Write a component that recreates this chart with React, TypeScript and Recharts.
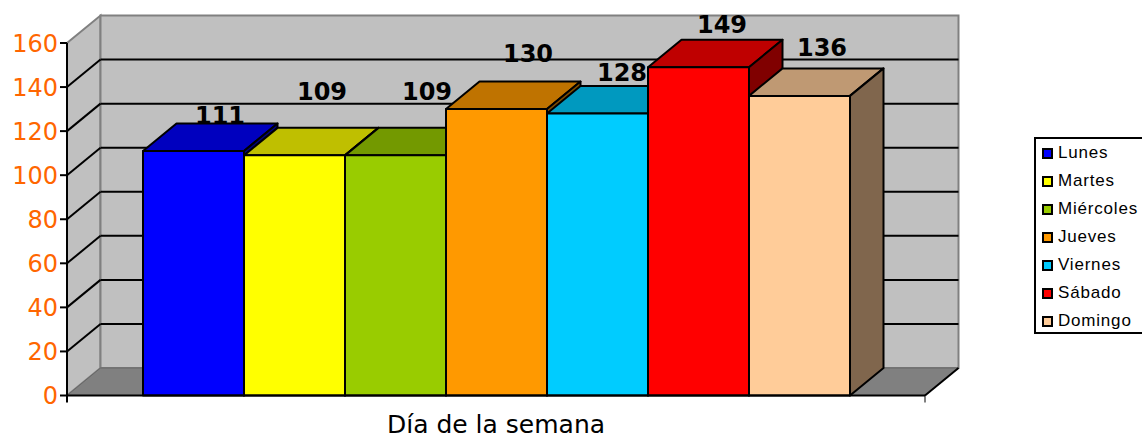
import { Bar, BarChart, Legend, ReferenceArea, XAxis, YAxis } from 'recharts';

const category = 'Día de la semana';
const days = ['Lunes', 'Martes', 'Miércoles', 'Jueves', 'Viernes', 'Sábado', 'Domingo'];
const visits = [111, 109, 109, 130, 128, 149, 136];
const yTicks = [0, 20, 40, 60, 80, 100, 120, 140, 160];
const gridTicks = [20, 40, 60, 80, 100, 120, 140];

const colors = ['#0000ff', '#ffff00', '#99cc00', '#ff9900', '#00ccff', '#ff0000', '#ffcc99'];
// where each value label sits relative to the top of its bar
const labelShift = [
  [27, -27],
  [28, -55],
  [32, -55],
  [32, -47],
  [25, -33],
  [24, -34],
  [23, -40],
];

const DX = 33.5;
const DY = 27.5;
const FONT = '"DejaVu Sans", Verdana, sans-serif';

const row: any = { name: category };
days.forEach((d, i) => {
  row[d] = visits[i];
});
const data = [row];

function shade(hex: string, f: number) {
  const n = parseInt(hex.slice(1), 16);
  const c = [(n >> 16) & 255, (n >> 8) & 255, n & 255].map((v) => Math.round(v * f));
  return `rgb(${c.join(',')})`;
}

function Walls({ x, y, width, height }: any) {
  const bottom = y + height;
  const right = x + width;
  return (
    <g>
      <polygon
        points={`${x},${y} ${x + DX},${y - DY} ${x + DX},${bottom - DY} ${x},${bottom}`}
        fill="#c0c0c0"
        stroke="#808080"
        strokeWidth={2}
      />
      <rect x={x + DX} y={y - DY} width={width} height={height} fill="#c0c0c0" stroke="#808080" strokeWidth={2} />
      <polygon
        points={`${x},${bottom} ${x + DX},${bottom - DY} ${right + DX},${bottom - DY} ${right},${bottom}`}
        fill="#808080"
        stroke="#666666"
        strokeWidth={1}
      />
      <line x1={right} y1={bottom} x2={right + DX} y2={bottom - DY} stroke="#000" strokeWidth={2} />
      <line x1={x} y1={bottom} x2={x} y2={bottom + 7} stroke="#000" strokeWidth={2} />
      <line x1={right} y1={bottom} x2={right} y2={bottom + 7} stroke="#000" strokeWidth={1} />
    </g>
  );
}

// top edge of the area is the tick's y from the axis scale
function GridLine({ x, y, width }: any) {
  return (
    <g fill="none" stroke="#000" strokeWidth={2}>
      <line x1={x} y1={y} x2={x + DX} y2={y - DY} />
      <line x1={x + DX} y1={y - DY} x2={x + width + DX} y2={y - DY} />
    </g>
  );
}

function Box({ x, y, width, height, fill, index }: any) {
  const x2 = x + width + 1;
  const bottom = y + height;
  const [lx, ly] = labelShift[index];
  return (
    <g stroke="#000" strokeWidth={2} strokeLinejoin="round">
      <text
        x={x + width / 2 + lx}
        y={y + ly}
        textAnchor="middle"
        fontFamily={FONT}
        fontWeight="bold"
        fontSize={24}
        fill="#000"
        stroke="none"
      >
        {visits[index]}
      </text>
      <polygon points={`${x},${y} ${x + DX},${y - DY} ${x2 + DX},${y - DY} ${x2},${y}`} fill={shade(fill, 0.75)} />
      <polygon points={`${x2},${y} ${x2 + DX},${y - DY} ${x2 + DX},${bottom - DY} ${x2},${bottom}`} fill={shade(fill, 0.5)} />
      <rect x={x} y={y} width={x2 - x} height={height} fill={fill} />
    </g>
  );
}

function DayLegend({ payload }: any) {
  return (
    <div
      style={{
        width: 118,
        height: 197,
        boxSizing: 'border-box',
        border: '2px solid #000',
        background: '#fff',
        fontFamily: '"Liberation Sans", Arial, sans-serif',
        fontSize: 17,
        letterSpacing: 0.8,
      }}
    >
      {(payload || []).map((p: any) => (
        <div key={p.value} style={{ height: 28, display: 'flex', alignItems: 'center', color: '#000' }}>
          <span
            style={{
              width: 11,
              height: 11,
              marginLeft: 6,
              marginRight: 5,
              boxSizing: 'border-box',
              border: '2px solid #000',
              background: p.color,
            }}
          />
          {p.value}
        </div>
      ))}
    </div>
  );
}

export default function App() {
  return (
    <div style={{ position: 'absolute', left: 0, top: 0, width: 1142, height: 438, overflow: 'hidden' }}>
      <BarChart
        width={1142}
        height={438}
        data={data}
        margin={{ top: 43, right: 217, bottom: 0, left: 0 }}
        barCategoryGap={76}
        barGap={1}
      >
        <ReferenceArea y1={0} y2={160} shape={(p: any) => <Walls {...p} />} />
        {gridTicks.map((t) => (
          <ReferenceArea key={t} y1={0} y2={t} shape={(p: any) => <GridLine {...p} />} />
        ))}
        <XAxis
          dataKey="name"
          height={42.5}
          axisLine={{ stroke: '#000', strokeWidth: 2 }}
          tickLine={false}
          tickMargin={14}
          tick={{ fontFamily: FONT, fontSize: 25, fill: '#000' }}
        />
        <YAxis
          width={67}
          domain={[0, 160]}
          ticks={yTicks}
          interval={0}
          axisLine={{ stroke: '#000', strokeWidth: 2 }}
          tickLine={{ stroke: '#000', strokeWidth: 2 }}
          tickSize={7}
          tickMargin={2}
          tick={{ fontFamily: FONT, fontSize: 24, fill: '#ff6600' }}
        />
        {days.map((d, i) => (
          <Bar
            key={d}
            dataKey={d}
            fill={colors[i]}
            isAnimationActive={false}
            shape={(p: any) => <Box {...p} index={i} />}
          />
        ))}
        <Legend
          layout="vertical"
          align="center"
          verticalAlign="middle"
          itemSorter={null}
          content={(p: any) => <DayLegend payload={p.payload} />}
          wrapperStyle={{ left: 1034, top: 137, width: 118 }}
        />
      </BarChart>
    </div>
  );
}
